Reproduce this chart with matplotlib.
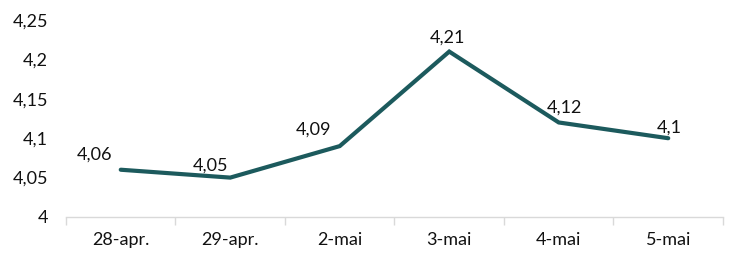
import numpy as np
import matplotlib.pyplot as plt
from matplotlib.ticker import FixedLocator, FuncFormatter

# data
dates  = ['28-apr.', '29-apr.', '2-mai', '3-mai', '4-mai', '5-mai']
values = [4.06, 4.05, 4.09, 4.21, 4.12, 4.10]
yticks = [4.0, 4.05, 4.1, 4.15, 4.2, 4.25]
labels = ['4,06', '4,05', '4,09', '4,21', '4,12', '4,1']

# label offsets in pixels (dx, dy)
offsets = [(-26, 15), (-20, 12), (-26, 16), (-2, 14), (6, 15), (1, 11)]

plt.rcParams['font.family'] = ['Lato', 'DejaVu Sans']

line_color = '#1C5A5D'
fs = 13

fig = plt.figure(figsize=(7.34, 2.54), dpi=100)
ax  = fig.add_axes([0.0899, 0.1457, 0.8951, 0.7753])

x = np.arange(len(dates))
ax.plot(x, values, color=line_color, lw=3.0, solid_capstyle='round',
        solid_joinstyle='miter')

for xi, v, lab, (dx, dy) in zip(x, values, labels, offsets):
    ax.annotate(lab, (xi, v), xytext=(dx, dy), textcoords='offset pixels',
                ha='center', va='center', fontsize=fs, color='#111111')

ax.set_xlim(-0.5, len(dates) - 0.5)
ax.set_ylim(4.0, 4.25)

ax.set_xticks(x)
ax.set_xticklabels(dates)
ax.xaxis.set_minor_locator(FixedLocator(np.arange(-0.5, len(dates), 1.0)))
ax.tick_params(axis='x', which='major', length=0, pad=11, labelsize=fs,
               labelcolor='#111111')
ax.tick_params(axis='x', which='minor', length=6, width=1, color='#D9D9D9',
               direction='out')

ax.set_yticks(yticks)
ax.yaxis.set_major_formatter(FuncFormatter(
    lambda v, p: ('%g' % round(v, 2)).replace('.', ',')))
ax.tick_params(axis='y', length=0, pad=13, labelsize=fs, labelcolor='#111111')

for s in ['top', 'right', 'left']:
    ax.spines[s].set_visible(False)
ax.spines['bottom'].set_color('#D9D9D9')
ax.spines['bottom'].set_linewidth(1)

fig.savefig('out.png', dpi=100)
